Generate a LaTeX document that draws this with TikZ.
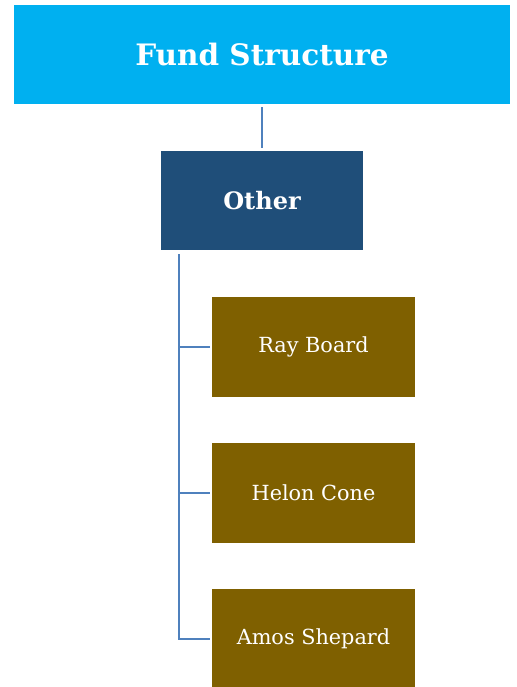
\documentclass[tikz,border=0pt]{standalone}
\usepackage{fontspec}
\setmainfont{DejaVu Serif}
\definecolor{fundcyan}{RGB}{0,176,240}
\definecolor{fundnavy}{RGB}{31,78,121}
\definecolor{fundgold}{RGB}{127,96,0}
\definecolor{fundline}{RGB}{79,129,189}
\tikzset{
  titlebox/.style={fill=fundcyan, text=white, minimum width=496pt, minimum height=99pt,
    font=\fontsize{29.5}{35}\selectfont\bfseries, inner sep=0pt},
  groupbox/.style={fill=fundnavy, text=white, minimum width=202pt, minimum height=99pt,
    font=\fontsize{24}{29}\selectfont\bfseries, inner sep=0pt},
  personbox/.style={fill=fundgold, text=white, minimum width=203pt, minimum height=100pt,
    font=\fontsize{20.8}{25}\selectfont, inner sep=0pt},
  link/.style={draw=fundline, line width=2.5pt}
}
\begin{document}
\begin{tikzpicture}[x=1pt,y=-1pt]
    \useasboundingbox (0,0) rectangle (516,687);

    \node[titlebox] (fund) at (262,54.5) {Fund Structure};
    \node[groupbox] (other) at (262,200.5) {Other};

    \node[personbox] (ray) at (313.5,347) {Ray Board};
    \node[personbox] (helon) at (313.5,493) {Helon Cone};
    \node[personbox] (amos) at (313.5,639) {Amos Shepard};

    \draw[link, shorten <=3pt, shorten >=3pt] (fund) -- (other);
    \coordinate (spine) at ([xshift=18pt,yshift=-4pt]other.south west);
    \draw[link, shorten >=2pt] (spine) |- (ray.west);
    \draw[link, shorten >=2pt] (spine) |- (helon.west);
    \draw[link, shorten >=2pt] (spine) |- (amos.west);
\end{tikzpicture}
\end{document}
